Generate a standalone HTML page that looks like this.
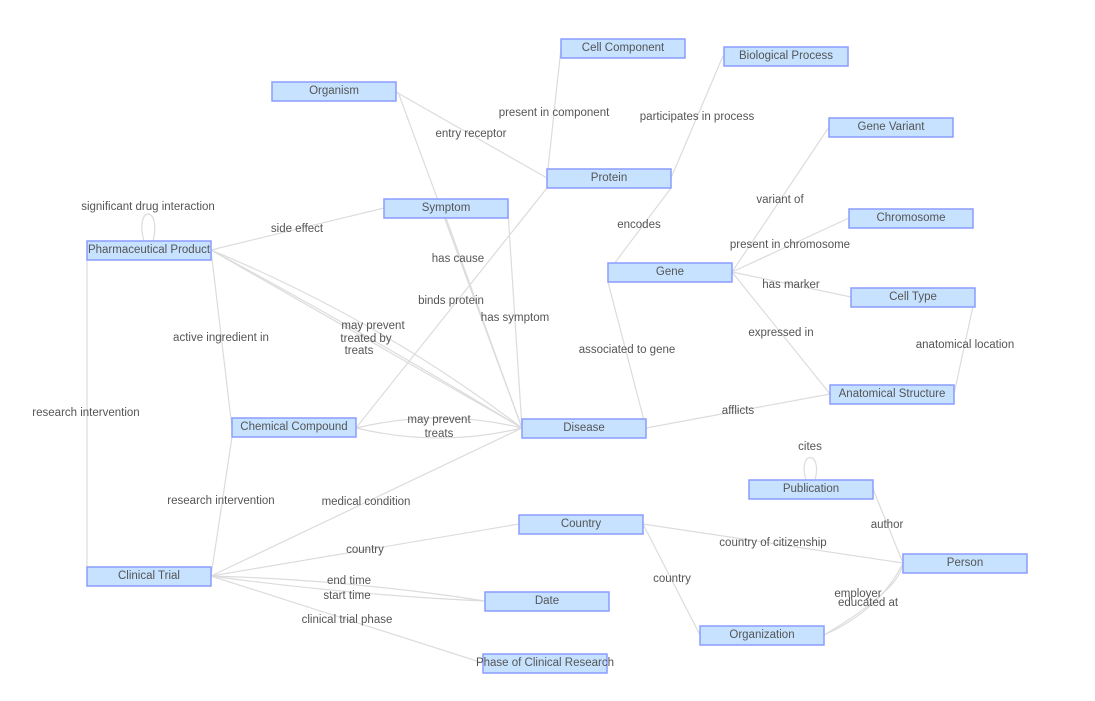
<!DOCTYPE html>
<html><head><meta charset="utf-8"><style>
html,body{margin:0;padding:0;background:#fff;}
svg{display:block;font-family:"Liberation Sans",sans-serif;}
.e{stroke:#dcdcdc;stroke-width:1.2;fill:none;}
.n{fill:#c6e2ff;stroke:#8c9cff;stroke-width:1.5;}
.t{font-size:11.5px;fill:#555;text-anchor:middle;dominant-baseline:central;}
.l{font-size:11.5px;fill:#555;text-anchor:middle;dominant-baseline:central;}
</style></head><body>
<svg width="1095" height="701" viewBox="0 0 1095 701">
<g class="e">
<path d="M396 92 L547 178"/>
<path d="M398 92 L522 428"/>
<path d="M446 218 L522 428"/>
<path d="M508 212 L522 428"/>
<path d="M547 178 L561 48"/>
<path d="M671 178 L723 56"/>
<path d="M608 272 L671 188"/>
<path d="M732 272 L829 127"/>
<path d="M732 272 L849 218"/>
<path d="M732 272 L851 297"/>
<path d="M732 272 L830 394"/>
<path d="M975 297 L954 394"/>
<path d="M646 428 L608 282"/>
<path d="M646 428 L830 394"/>
<path d="M356 428 L547 188"/>
<path d="M356 428 Q440 408 522 428"/>
<path d="M356 428 Q440 448 522 428"/>
<path d="M211 250 L384 208"/>
<path d="M211 250 L522 428"/>
<path d="M211 250 Q360 330 522 428"/>
<path d="M211 250 Q380 320 522 428"/>
<path d="M211 250 L232 428"/>
<path d="M87 260 L87 567"/>
<path d="M232 437 L211 576"/>
<path d="M211 576 L522 428"/>
<path d="M211 576 L519 524"/>
<path d="M211 576 Q350 580 485 601"/>
<path d="M211 576 Q350 595 485 601"/>
<path d="M211 576 L483 663"/>
<path d="M643 524 L903 563"/>
<path d="M700 635 L643 524"/>
<path d="M824 635 Q880 610 903 563"/>
<path d="M824 635 Q900 590 903 563"/>
<path d="M873 489 L903 563"/>
<path d="M806 480 C797 450 823 450 815 480"/>
<path d="M144 241 C134 205 162 205 153 241"/>
</g>
<g>
<rect class="n" x="561" y="39" width="124" height="19"/>
<rect class="n" x="724" y="47" width="124" height="19"/>
<rect class="n" x="272" y="82" width="124" height="19"/>
<rect class="n" x="829" y="118" width="124" height="19"/>
<rect class="n" x="547" y="169" width="124" height="19"/>
<rect class="n" x="384" y="199" width="124" height="19"/>
<rect class="n" x="849" y="209" width="124" height="19"/>
<rect class="n" x="87" y="241" width="124" height="19"/>
<rect class="n" x="608" y="263" width="124" height="19"/>
<rect class="n" x="851" y="288" width="124" height="19"/>
<rect class="n" x="830" y="385" width="124" height="19"/>
<rect class="n" x="232" y="418" width="124" height="19"/>
<rect class="n" x="522" y="419" width="124" height="19"/>
<rect class="n" x="749" y="480" width="124" height="19"/>
<rect class="n" x="519" y="515" width="124" height="19"/>
<rect class="n" x="903" y="554" width="124" height="19"/>
<rect class="n" x="87" y="567" width="124" height="19"/>
<rect class="n" x="485" y="592" width="124" height="19"/>
<rect class="n" x="700" y="626" width="124" height="19"/>
<rect class="n" x="483" y="654" width="124" height="19"/>
</g>
<g class="t">
<text x="623" y="48">Cell Component</text>
<text x="786" y="56">Biological Process</text>
<text x="334" y="91">Organism</text>
<text x="891" y="127">Gene Variant</text>
<text x="609" y="178">Protein</text>
<text x="446" y="208">Symptom</text>
<text x="911" y="218">Chromosome</text>
<text x="149" y="250">Pharmaceutical Product</text>
<text x="670" y="272">Gene</text>
<text x="913" y="297">Cell Type</text>
<text x="892" y="394">Anatomical Structure</text>
<text x="294" y="427">Chemical Compound</text>
<text x="584" y="428">Disease</text>
<text x="811" y="489">Publication</text>
<text x="581" y="524">Country</text>
<text x="965" y="563">Person</text>
<text x="149" y="576">Clinical Trial</text>
<text x="547" y="601">Date</text>
<text x="762" y="635">Organization</text>
<text x="545" y="663">Phase of Clinical Research</text>
</g>
<g class="l">
<text x="554" y="113">present in component</text>
<text x="697" y="117">participates in process</text>
<text x="471" y="134">entry receptor</text>
<text x="148" y="207">significant drug interaction</text>
<text x="297" y="229">side effect</text>
<text x="780" y="200">variant of</text>
<text x="639" y="225">encodes</text>
<text x="790" y="245">present in chromosome</text>
<text x="458" y="259">has cause</text>
<text x="791" y="285">has marker</text>
<text x="451" y="301">binds protein</text>
<text x="515" y="318">has symptom</text>
<text x="373" y="326">may prevent</text>
<text x="366" y="339">treated by</text>
<text x="359" y="351">treats</text>
<text x="221" y="338">active ingredient in</text>
<text x="781" y="333">expressed in</text>
<text x="965" y="345">anatomical location</text>
<text x="627" y="350">associated to gene</text>
<text x="86" y="413">research intervention</text>
<text x="738" y="411">afflicts</text>
<text x="439" y="420">may prevent</text>
<text x="439" y="434">treats</text>
<text x="810" y="447">cites</text>
<text x="221" y="501">research intervention</text>
<text x="366" y="502">medical condition</text>
<text x="887" y="525">author</text>
<text x="773" y="543">country of citizenship</text>
<text x="365" y="550">country</text>
<text x="672" y="579">country</text>
<text x="349" y="581">end time</text>
<text x="347" y="596">start time</text>
<text x="858" y="594">employer</text>
<text x="868" y="603">educated at</text>
<text x="347" y="620">clinical trial phase</text>
</g>
</svg>
</body></html>
